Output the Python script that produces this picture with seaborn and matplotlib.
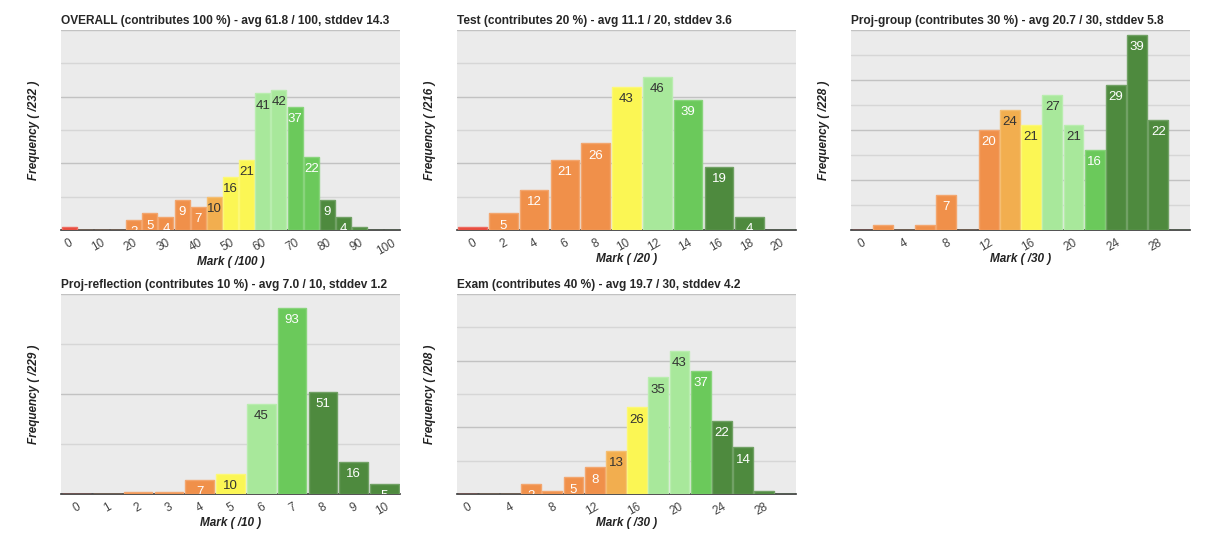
import matplotlib
matplotlib.use("Agg")
import matplotlib.pyplot as plt
import matplotlib.colors as mcolors
import seaborn as sns

sns.set_theme(style="white")
plt.rcParams['font.family'] = ['Liberation Sans', 'DejaVu Sans']

# ---- data ----
overall_bins = [0, 5, 10, 15, 20, 25, 30, 35, 40, 45, 50, 55, 60, 65, 70, 75, 80, 85, 90, 95, 100]
overall_counts = [1, 0, 0, 0, 3, 5, 4, 9, 7, 10, 16, 21, 41, 42, 37, 22, 9, 4, 1, 0, 0]

test_bins = [0, 2, 4, 6, 8, 10, 12, 14, 16, 18, 20]
test_counts = [1, 5, 12, 21, 26, 43, 46, 39, 19, 4, 0]

group_bins = [0, 2, 4, 6, 8, 10, 12, 14, 16, 18, 20, 22, 24, 26, 28, 30]
group_counts = [0, 1, 0, 1, 7, 0, 20, 24, 21, 27, 21, 16, 29, 39, 22, 0]

refl_bins = [0, 1, 2, 3, 4, 5, 6, 7, 8, 9, 10]
refl_counts = [0, 0, 1, 1, 7, 10, 45, 93, 51, 16, 5]

exam_bins = [0, 2, 4, 6, 8, 10, 12, 14, 16, 18, 20, 22, 24, 26, 28, 30]
exam_counts = [0, 0, 0, 3, 1, 5, 8, 13, 26, 35, 43, 37, 22, 14, 1, 0]

panels = [
    ("OVERALL (contributes 100 %) - avg 61.8 / 100, stddev 14.3", overall_bins, overall_counts, 100, 232, 60, 10, 2),
    ("Test (contributes 20 %) - avg 11.1 / 20, stddev 3.6", test_bins, test_counts, 20, 216, 60, 10, 1),
    ("Proj-group (contributes 30 %) - avg 20.7 / 30, stddev 5.8", group_bins, group_counts, 30, 228, 40, 5, 2),
    ("Proj-reflection (contributes 10 %) - avg 7.0 / 10, stddev 1.2", refl_bins, refl_counts, 10, 229, 100, 25, 1),
    ("Exam (contributes 40 %) - avg 19.7 / 30, stddev 4.2", exam_bins, exam_counts, 30, 208, 60, 10, 2),
]

RED = "#e8473a"
ORANGE = "#f0904a"
LORANGE = "#f2ae4f"
YELLOW = "#fbf654"
LGREEN = "#a8e89b"
GREEN = "#6bc95b"
DGREEN = "#4e8a3e"
DARK_TEXT = {LORANGE, YELLOW, LGREEN}


def bar_color(mark, total):
    if mark == 0:
        return RED
    f = mark / total
    if f < 0.45:
        return ORANGE
    if f < 0.5:
        return LORANGE
    if f < 0.6:
        return YELLOW
    if f < 0.7:
        return LGREEN
    if f < 0.8:
        return GREEN
    return DGREEN


def lighten(c, amt=0.25):
    r, g, b = mcolors.to_rgb(c)
    return (r + (1 - r) * amt, g + (1 - g) * amt, b + (1 - b) * amt)


fig = plt.figure(figsize=(12.1, 5.47), dpi=100)
W, H = 1210, 547
boxes = [(61, 30), (457, 30), (851, 30), (61, 294), (457, 294)]
aw, ah = 339, 200

for (title, bins, counts, total, n, ymax, unit, step), (x0, y0) in zip(panels, boxes):
    ax = fig.add_axes([x0 / W, 1 - (y0 + ah) / H, aw / W, ah / H])
    ax.set_facecolor("#ebebeb")
    labels = [str(b) for b in bins]
    cols = [bar_color(b, total) for b in bins]
    sns.barplot(x=labels, y=counts, hue=labels, order=labels, hue_order=labels,
                palette=cols, legend=False, saturation=1, width=0.93, ax=ax, zorder=3)
    for p, c in zip(ax.patches, cols):
        p.set_edgecolor(lighten(c, 0.2))
        p.set_linewidth(1.0)
    for i, (b, v) in enumerate(zip(bins, counts)):
        if v >= 3:
            c = cols[i]
            ax.annotate(str(v), xy=(i, v), xytext=(0, -4.5), textcoords="offset points",
                        ha="center", va="top", fontsize=9.5,
                        color="#333333" if c in DARK_TEXT else "white",
                        clip_on=True, zorder=4)
    ax.set_xlim(-0.5, len(bins) - 0.5)
    ax.set_ylim(0, ymax)
    ax.set_yticks(range(0, ymax + 1, unit * 2))
    ax.set_yticks(range(unit, ymax + 1, unit * 2), minor=True)
    ax.grid(axis="y", which="major", color="#c2c2c2", linewidth=1, zorder=0)
    ax.grid(axis="y", which="minor", color="#d6d6d6", linewidth=1, zorder=0)
    ax.grid(axis="x", visible=False)
    ax.tick_params(axis="y", which="both", left=False, labelleft=False)
    ticks = list(range(0, len(bins), step))
    ax.set_xticks(ticks)
    ax.set_xticklabels([labels[t] for t in ticks], rotation=30, ha="right",
                       rotation_mode="anchor", fontsize=8.5, color="#444444")
    ax.tick_params(axis="x", length=0, pad=5)
    for s in ["top", "left", "right"]:
        ax.spines[s].set_visible(False)
    ax.spines["bottom"].set_color("#333333")
    ax.spines["bottom"].set_linewidth(1.2)
    ax.spines["bottom"].set_zorder(2.5)
    ax.set_title(title, loc="left", fontsize=8.6, fontweight="bold", pad=4)
    ax.set_xlabel(f"Mark ( /{total} )", fontsize=8.5, fontweight="bold",
                  fontstyle="italic", labelpad=-1, color="#222222")
    ax.set_ylabel(f"Frequency ( /{n} )", fontsize=8.5, fontweight="bold",
                  fontstyle="italic", labelpad=15, color="#222222")

fig.savefig("out.png", dpi=100, facecolor="white")
